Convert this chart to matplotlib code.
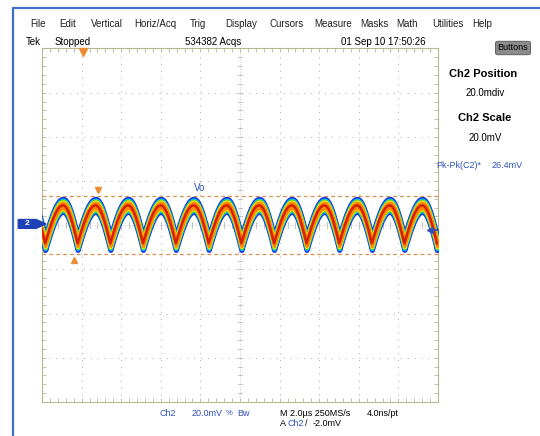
import numpy as np
import matplotlib.pyplot as plt
from matplotlib.lines import Line2D
from matplotlib.patches import Polygon

# screen readings: time in us, level in mV (20 mV/div, 2 us/div)
peak_t = [-10.60, -8.94, -7.30, -5.65, -4.00, -2.34, -0.68, 0.97, 2.62, 4.26, 5.91, 7.56, 9.20]
trough_t = [-9.84, -8.20, -6.55, -4.90, -3.24, -1.58, 0.07, 1.72, 3.36, 5.01, 6.66, 8.30, 9.95]
peak_mv = 9.0
trough_mv = -8.2
cursor_mv = [13.2, -13.2]
trig_mv = -2.0

menu_items = ["File", "Edit", "Vertical", "Horiz/Acq", "Trig", "Display", "Cursors",
              "Measure", "Masks", "Math", "Utilities", "Help"]
menu_x = [30, 59, 91, 134, 190, 225, 269, 314, 360, 396, 432, 472]

W, H = 540, 436
FONT = ['Liberation Sans Narrow', 'Liberation Sans', 'DejaVu Sans']
plt.rcParams['font.family'] = FONT

fig = plt.figure(figsize=(W / 100, H / 100), dpi=100)
fig.patch.set_facecolor('white')


def fx(x):
    return x / W


def fy(y):
    return 1 - y / H


# graticule area in pixels
gl, gr, gt, gb = 42, 438, 48.5, 402
ax = fig.add_axes([fx(gl), fy(gb), (gr - gl) / W, (gb - gt) / H])
ax.set_xlim(-10, 10)
ax.set_ylim(-80, 80)
ax.set_facecolor('white')

frame_c = '#b8b890'
grid_c = '#b8b8b8'
for s in ax.spines.values():
    s.set_color(frame_c)
    s.set_linewidth(0.8)

ax.set_xticks(np.arange(-10, 10.01, 0.4))
ax.set_yticks(np.arange(-80, 80.01, 4))
ax.tick_params(direction='in', length=3, width=0.6, color=frame_c,
               top=True, right=True, labelbottom=False, labelleft=False)

# dotted division lines
for xv in np.arange(-8, 9, 2):
    if xv != 0:
        ax.axvline(xv, color=grid_c, lw=0.8, ls=(0, (1, 5.2)), zorder=0)
for yv in np.arange(-60, 61, 20):
    if yv != 0:
        ax.axhline(yv, color=grid_c, lw=0.8, ls=(0, (1, 5.2)), zorder=0)

# center cross with small ticks
ax.axvline(0, color=grid_c, lw=0.6, ls=(0, (1, 2)), zorder=0)
ax.axhline(0, color=grid_c, lw=0.6, ls=(0, (1, 2)), zorder=0)
for xv in np.arange(-10, 10.01, 0.4):
    ax.plot([xv, xv], [-1.3, 1.3], color=grid_c, lw=0.6, zorder=0)
for yv in np.arange(-80, 80.01, 4):
    ax.plot([-0.1, 0.1], [yv, yv], color=grid_c, lw=0.6, zorder=0)

# build trace from the peak / trough readings
pts = sorted([(t, peak_mv) for t in peak_t] + [(t, trough_mv) for t in trough_t])
tt, vv = [], []
for (t0, v0), (t1, v1) in zip(pts[:-1], pts[1:]):
    u = np.linspace(0, 1, 30)
    if v1 > v0:
        seg = v0 + (v1 - v0) * np.sin(np.pi / 2 * u)
    else:
        seg = v1 + (v0 - v1) * np.cos(np.pi / 2 * u)
    tt.extend(t0 + (t1 - t0) * u)
    vv.extend(seg)
tt = np.array(tt)
vv = np.array(vv)

# persistence layers, outside to inside
layers = [('#1428e8', 2.9, 3.8), ('#00c0f0', 2.35, 3.2), ('#3ccc3c', 2.0, 2.9),
          ('#f4ea10', 1.65, 2.6), ('#ff8800', 1.2, 2.3)]
for c, d, e in layers:
    ax.fill_between(tt, vv - d, vv + d, color=c, edgecolor=c, lw=e, zorder=3)
ax.plot(tt, vv, color='#d42000', lw=1.8, zorder=4)

# cursors
for cv in cursor_mv:
    ax.axhline(cv, color='#d89050', lw=0.9, ls=(0, (3, 2.5)), zorder=5)
ax.plot(-7.17, cursor_mv[0] + 2.6, marker='v', ms=5, color='#f08a30', zorder=6)
ax.plot(-8.38, cursor_mv[1] - 2.6, marker='^', ms=5, color='#f08a30', zorder=6)
ax.plot(-7.95, 78.5, marker='v', ms=6, color='#f08a30', clip_on=False, zorder=6)

ax.text(-2.35, 15.5, 'Vo', color='#2a4cb0', fontsize=7, zorder=6)

# channel ground marker and trigger level marker
ax.add_patch(Polygon([[-11.2, 2.6], [-10.3, 2.6], [-9.8, 0.6], [-10.3, -1.4], [-11.2, -1.4]],
                     closed=True, color='#2040b8', clip_on=False, zorder=6))
ax.text(-10.75, 0.6, '2', color='white', fontsize=6, fontweight='bold',
        ha='center', va='center', zorder=7)
ax.plot([9.6, 10.0], [trig_mv, trig_mv], color='#3050b0', lw=1.2, clip_on=False, zorder=6)
ax.plot(9.6, trig_mv, marker='<', ms=4, color='#3050b0', clip_on=False, zorder=6)

# blue window frame
fig.add_artist(Line2D([fx(13), fx(13), fx(540)], [fy(436), fy(8.5), fy(8.5)],
                      color='#3f6fc8', lw=1.6))

# menu bar and status line
for name, x in zip(menu_items, menu_x):
    fig.text(fx(x), fy(24), name, fontsize=7, va='center', color='#202020')
fig.text(fx(26), fy(42), 'Tek', fontsize=7, va='center')
fig.text(fx(55), fy(42), 'Stopped', fontsize=7, va='center')
fig.text(fx(185), fy(42), '534382 Acqs', fontsize=7, va='center')
fig.text(fx(341), fy(42), '01 Sep 10 17:50:26', fontsize=7, va='center')
fig.text(fx(513), fy(48), 'Buttons', fontsize=6.5, va='center', ha='center',
         bbox=dict(boxstyle='round,pad=0.25', fc='#8c8c8c', ec='#555555', lw=0.6))

# right side panel
fig.text(fx(483), fy(74), 'Ch2 Position', fontsize=8, fontweight='bold', ha='center', va='center')
fig.text(fx(485), fy(93), '20.0mdiv', fontsize=7, ha='center', va='center')
fig.text(fx(485), fy(118), 'Ch2 Scale', fontsize=8, fontweight='bold', ha='center', va='center')
fig.text(fx(485), fy(138), '20.0mV', fontsize=7, ha='center', va='center')
fig.text(fx(436), fy(165), 'Pk-Pk(C2)*', fontsize=6.5, color='#3050c0', va='center')
fig.text(fx(492), fy(165), '26.4mV', fontsize=6.5, color='#3050c0', va='center')

# bottom readout
blue = '#3050c0'
fig.text(fx(160), fy(413), 'Ch2', fontsize=6.5, color=blue, va='center')
fig.text(fx(192), fy(413), '20.0mV', fontsize=6.5, color=blue, va='center')
fig.text(fx(226), fy(413), '%', fontsize=5.5, color=blue, va='center')
fig.text(fx(237), fy(413), 'Bw', fontsize=6.5, color=blue, va='center')
fig.text(fx(280), fy(413), 'M 2.0\u00b5s 250MS/s', fontsize=6.5, va='center')
fig.text(fx(367), fy(413), '4.0ns/pt', fontsize=6.5, va='center')
fig.text(fx(280), fy(423), 'A', fontsize=6.5, va='center')
fig.text(fx(288), fy(423), 'Ch2', fontsize=6.5, color=blue, va='center')
fig.text(fx(305), fy(423), '/', fontsize=6.5, va='center')
fig.text(fx(313), fy(423), '-2.0mV', fontsize=6.5, va='center')

fig.savefig('out.png', dpi=100, facecolor='white')
